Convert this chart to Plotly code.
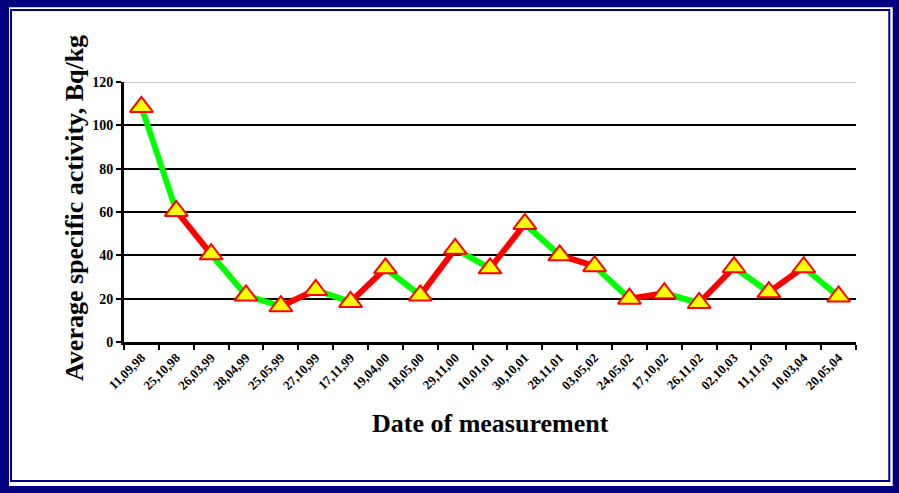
import plotly.graph_objects as go

dates = ["11,09,98", "25,10,98", "26,03,99", "28,04,99", "25,05,99", "27,10,99",
         "17,11,99", "19,04,00", "18,05,00", "29,11,00", "10,01,01", "30,10,01",
         "28,11,01", "03,05,02", "24,05,02", "17,10,02", "26,11,02", "02,10,03",
         "11,11,03", "10,03,04", "20,05,04"]
activity = [108.5, 60.5, 40.5, 21.5, 16.5, 24, 18.5, 34, 21.5, 43, 34, 54.5,
            40, 35, 20, 22.5, 18, 34.5, 23, 34.5, 21]
segment_colors = ["#00FF00", "#FF0000", "#00FF00", "#00FF00", "#FF0000", "#00FF00",
                  "#FF0000", "#00FF00", "#FF0000", "#00FF00", "#FF0000", "#00FF00",
                  "#FF0000", "#00FF00", "#FF0000", "#00FF00", "#FF0000", "#00FF00",
                  "#FF0000", "#00FF00"]
y_ticks = [0, 20, 40, 60, 80, 100, 120]

W, H = 899, 493
L, R, T, B = 124, 43, 82, 151
PW, PH = W - L - R, H - T - B

def px(x):
    return (x - L) / PW

def py(y):
    return (H - B - y) / PH

fig = go.Figure()
for i, c in enumerate(segment_colors):
    fig.add_trace(go.Scatter(
        x=[dates[i], dates[i + 1]], y=[activity[i], activity[i + 1]],
        mode="lines", line=dict(color=c, width=6), hoverinfo="skip", showlegend=False))
fig.add_trace(go.Scatter(
    x=dates, y=activity, mode="markers", showlegend=False,
    marker=dict(symbol="triangle-up", size=20, color="#FFFF00",
                line=dict(color="#FF0000", width=2))))

serif = "Liberation Serif, Times New Roman, serif"
fig.update_layout(
    width=W, height=H,
    margin=dict(l=L, r=R, t=T, b=B, autoexpand=False),
    paper_bgcolor="#000080",
    plot_bgcolor="white",
    font=dict(family=serif, color="black"),
    shapes=[
        dict(type="rect", xref="paper", yref="paper", layer="below",
             x0=px(9), x1=px(892.7), y0=py(486), y1=py(7.3),
             fillcolor="white", line=dict(width=0)),
        dict(type="rect", xref="paper", yref="paper", layer="below",
             x0=px(11), x1=px(889.3), y0=py(481), y1=py(10),
             fillcolor="white", line=dict(color="#000080", width=2)),
        dict(type="line", xref="paper", yref="y", layer="above",
             x0=0, x1=1, y0=120, y1=120, line=dict(color="#C8C8C8", width=2)),
    ],
    annotations=[
        dict(text="<b>Date of measurement</b>", xref="paper", yref="paper",
             x=px(490), y=py(423), xanchor="center", yanchor="middle", showarrow=False,
             font=dict(family=serif, size=26, color="black")),
        dict(text="<b>Average specific activity, Bq/kg</b>", xref="paper", yref="paper",
             x=px(74), y=py(208), xanchor="center", yanchor="middle", showarrow=False,
             textangle=-90, font=dict(family=serif, size=26, color="black")),
    ],
    xaxis=dict(
        type="category", range=[-0.5, len(dates) - 0.5], automargin=False,
        tickson="boundaries", ticks="outside", ticklen=5, tickwidth=2, tickcolor="black",
        showline=True, linecolor="black", linewidth=3, showgrid=False,
        tickangle=-45, tickfont=dict(family=serif, size=13, color="black", weight="bold"),
    ),
    yaxis=dict(
        range=[0, 120], tickvals=y_ticks, ticks="outside", ticklen=5, tickwidth=2,
        tickcolor="black", showline=True, linecolor="black", linewidth=3, automargin=False,
        showgrid=True, gridcolor="black", gridwidth=2, zeroline=False,
        tickfont=dict(family=serif, size=14, color="black", weight="bold"),
    ),
)

fig.write_html("out.html", config={"displayModeBar": False},
               post_script="document.body.style.margin='0';")
